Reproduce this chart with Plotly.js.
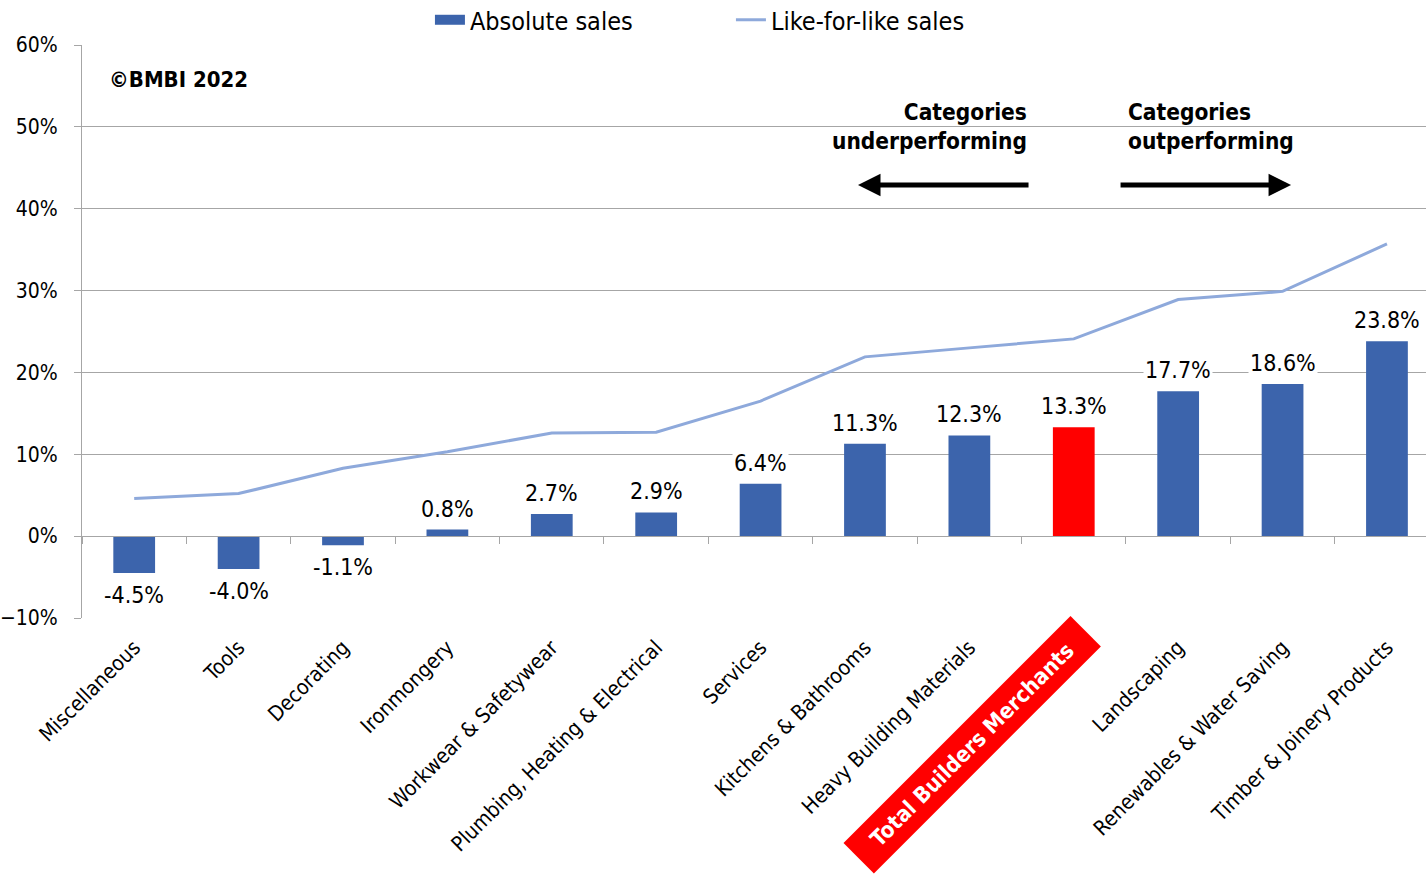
<!DOCTYPE html>
<html><head><meta charset="utf-8">
<script src="https://cdn.plot.ly/plotly-3.0.1.min.js"></script>
<style>html,body{margin:0;padding:0;background:#fff}#chart{width:1426px;height:877px}</style>
</head><body><div id="chart"></div>
<script>
const categories = ["Miscellaneous","Tools","Decorating","Ironmongery","Workwear & Safetywear","Plumbing, Heating & Electrical","Services","Kitchens & Bathrooms","Heavy Building Materials","Total Builders Merchants","Landscaping","Renewables & Water Saving","Timber & Joinery Products"];
const absoluteSales = [-4.5,-4.0,-1.1,0.8,2.7,2.9,6.4,11.3,12.3,13.3,17.7,18.6,23.8];
const likeForLike = [4.6,5.2,8.3,10.3,12.6,12.7,16.5,21.9,23.0,24.1,28.9,29.9,35.7];
const highlight = "Total Builders Merchants";

const FONT = '"DejaVu Sans Condensed","DejaVu Sans",sans-serif';
const blue = '#3C64AC', red = '#FF0000', lineBlue = '#8EA9DB', grid = '#A6A6A6';

const barColors = categories.map(c => c === highlight ? red : blue);

const traces = [
  {type:'bar', name:'Absolute sales', x:categories, y:absoluteSales, width:0.4,
   marker:{color:barColors}, hoverinfo:'skip', showlegend:false},
  // legend-only swatch for the bar series (wide rectangle like the original)
  {type:'scatter', mode:'lines', name:'Absolute sales', x:[null], y:[null],
   line:{color:blue, width:15}, hoverinfo:'skip'},
  {type:'scatter', mode:'lines', name:'Like-for-like sales', x:categories, y:likeForLike,
   line:{color:lineBlue, width:3}, hoverinfo:'skip'},
  {type:'scatter', x:[0], y:[0], xaxis:'x2', mode:'none', showlegend:false, hoverinfo:'skip'}
];

const annotations = [];
absoluteSales.forEach((v,i)=>{
  annotations.push({x:categories[i], y:v, xref:'x', yref:'y', text:v.toFixed(1)+'%', showarrow:false,
    yanchor: v>=0?'bottom':'top', yshift: v>=0?6:-7, bgcolor:'#fff', borderpad:1,
    font:{family:FONT, size:23, color:'#000'}});
});
annotations.push({xref:'paper', yref:'paper', x:0.0185, y:0.939, xanchor:'left', yanchor:'middle', showarrow:false,
  text:'<b>©BMBI 2022</b>', font:{family:FONT, size:22, color:'#000'}});
annotations.push({xref:'paper', yref:'paper', x:0.7046, y:0.857, xanchor:'right', yanchor:'middle', align:'right', showarrow:false,
  text:'<b>Categories</b><br><b>underperforming</b>', font:{family:FONT, size:22.5, color:'#000'}});
annotations.push({xref:'paper', yref:'paper', x:0.7768, y:0.857, xanchor:'left', yanchor:'middle', align:'left', showarrow:false,
  text:'<b>Categories</b><br><b>outperforming</b>', font:{family:FONT, size:22.5, color:'#000'}});
annotations.push({xref:'paper', yref:'paper', x:0.5774, y:0.7557, ax:172, ay:0, text:'', showarrow:true,
  arrowhead:2, arrowwidth:5, arrowsize:0.9, arrowcolor:'#000'});
annotations.push({xref:'paper', yref:'paper', x:0.8996, y:0.7557, ax:-172, ay:0, text:'', showarrow:true,
  arrowhead:2, arrowwidth:5, arrowsize:0.9, arrowcolor:'#000'});
annotations.push({xref:'x', yref:'paper', x:highlight, xshift:-102, y:-0.221, xanchor:'center', yanchor:'middle',
  showarrow:false, textangle:-45, text:'<b>'+highlight+'</b>', bgcolor:red, width:316, height:38, borderpad:2,
  font:{family:FONT, size:22, color:'#fff'}});

const layout = {
  width:1426, height:877, paper_bgcolor:'#fff', plot_bgcolor:'#fff',
  margin:{l:82, r:0, t:45, b:259, autoexpand:false},
  font:{family:FONT, color:'#000'},
  showlegend:true,
  legend:{orientation:'h', xref:'container', yref:'paper', x:0.3015, xanchor:'left', y:1.0436, yanchor:'middle',
    font:{family:FONT, size:25, color:'#000'}, itemwidth:30, entrywidth:256, traceorder:'normal'},
  xaxis:{type:'category', range:[-0.5,12.374], tickvals:categories,
    ticktext:categories.map(c=>c===highlight?'':c), tickangle:-45,
    ticks:'outside', ticklen:8, tickcolor:'rgba(0,0,0,0)', showgrid:false, showline:false, zeroline:false,
    tickfont:{family:FONT, size:21, color:'#000'}},
  xaxis2:{overlaying:'x', anchor:'free', position:1/7, range:[-0.5,12.374], tick0:0.5, dtick:1,
    showticklabels:false, ticks:'outside', ticklen:7, tickcolor:grid, showline:true, linecolor:grid, linewidth:1,
    showgrid:false, zeroline:false},
  yaxis:{range:[-10,60], dtick:10, ticksuffix:'%', showgrid:true, gridcolor:grid, gridwidth:1,
    zeroline:true, zerolinecolor:grid, zerolinewidth:1, showline:true, linecolor:grid, linewidth:1,
    ticks:'outside', ticklen:7, tickcolor:grid, ticklabelstandoff:12,
    tickfont:{family:FONT, size:21, color:'#000'}},
  annotations:annotations
};
Plotly.newPlot('chart', traces, layout, {staticPlot:true, displayModeBar:false});
</script></body></html>
